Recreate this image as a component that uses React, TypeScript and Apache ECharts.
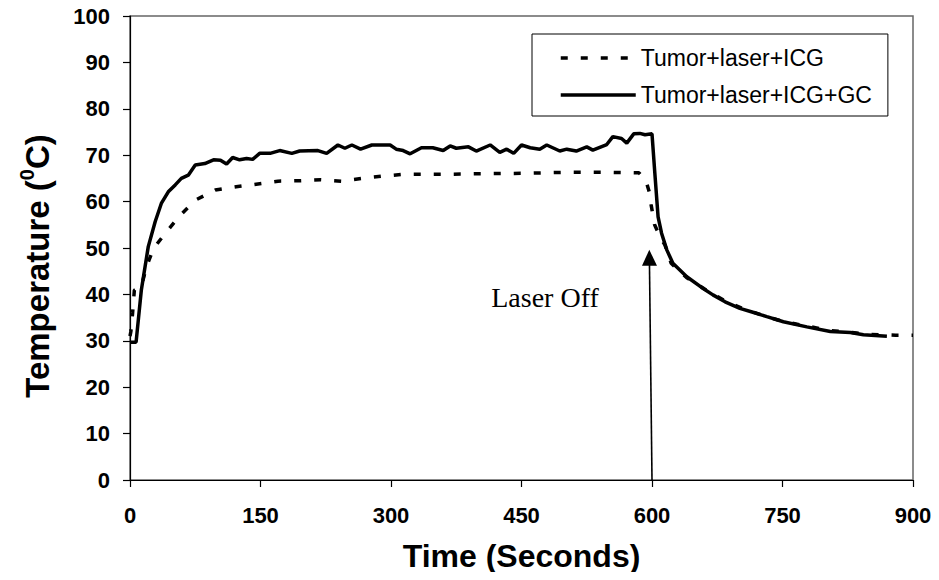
import React, { useEffect, useRef } from "react";
import * as echarts from "echarts";

// Time (s) and temperature (°C)
const icgTime = [0, 1, 3, 5, 13, 19, 27, 42, 58, 75, 98, 122, 143, 170, 195, 219, 243, 267, 291, 315, 339, 365, 400, 450, 500, 550, 585, 593, 597, 599, 603, 609, 615, 622, 640, 660, 685, 705, 730, 750, 780, 805, 830, 850, 880, 900];
const icgTemp = [31, 32, 36, 40.9, 41.7, 46, 49.9, 53.5, 57.1, 60.3, 62.5, 63.2, 63.7, 64.4, 64.5, 64.7, 64.4, 65, 65.5, 65.9, 65.9, 65.9, 66, 66.1, 66.3, 66.3, 66.2, 64.5, 62, 59.3, 55, 52.5, 50.6, 46.7, 43.6, 41.2, 38.5, 36.9, 35.3, 34.2, 33.1, 32.2, 31.8, 31.4, 31.2, 31.2];

const gcTime = [0, 7, 13, 21, 29, 36, 44, 52, 59, 67, 75, 86, 96, 104, 111, 118, 126, 134, 141, 149, 161, 172, 186, 195, 216, 226, 239, 247, 255, 265, 278, 299, 306, 314, 322, 335, 348, 360, 368, 375, 389, 398, 414, 425, 433, 441, 450, 460, 471, 479, 494, 502, 513, 525, 532, 548, 555, 565, 571, 579, 586, 592, 600, 603, 607, 611, 617, 624, 640, 657, 670, 684, 701, 715, 732, 751, 778, 805, 828, 843, 870];
const gcTemp = [29.7, 29.7, 40.9, 50.3, 55.7, 59.6, 62.1, 63.6, 65, 65.7, 67.9, 68.2, 69, 68.9, 68.1, 69.5, 69, 69.3, 69.1, 70.4, 70.4, 71, 70.4, 70.9, 71, 70.4, 72.2, 71.5, 72.2, 71.3, 72.2, 72.2, 71.3, 71, 70.3, 71.6, 71.6, 71, 72, 71.5, 71.8, 70.9, 72.2, 70.6, 71.3, 70.4, 72.2, 71.6, 71.3, 72.2, 70.9, 71.3, 70.9, 71.8, 71.1, 72.3, 74, 73.6, 72.6, 74.6, 74.7, 74.4, 74.6, 66.8, 56.7, 53.2, 49.6, 46.7, 43.8, 41.5, 39.9, 38.4, 37, 36.2, 35.2, 34.1, 33, 32, 31.8, 31.3, 31];

const seriesNames = ["Tumor+laser+ICG", "Tumor+laser+ICG+GC"];
const xTicks = { min: 0, max: 900, interval: 150 };
const yTicks = { min: 0, max: 100, interval: 10 };
const arrowStart = [600, 0];
const arrowEnd = [597, 47.9];
const annotation = "Laser Off";

const zip = (xs: number[], ys: number[]) => xs.map((x, i) => [x, ys[i]]);

export default function App() {
  const ref = useRef<HTMLDivElement>(null);
  useEffect(() => {
    if (!ref.current) return;
    const chart = echarts.init(ref.current, undefined, { renderer: "svg" });
    const tickFont = {
      fontFamily: "'Liberation Sans', Arial, sans-serif",
      fontWeight: "bold" as const,
      fontSize: 22,
      color: "#000",
    };
    chart.setOption({
      animation: false,
      backgroundColor: "#fff",
      grid: {
        left: 130,
        right: 26,
        top: 16,
        bottom: 100,
        show: true,
        borderColor: "#666",
        borderWidth: 1.5,
        backgroundColor: "transparent",
      },
      legend: {
        orient: "vertical",
        left: 532,
        top: 34,
        padding: [12, 16, 9, 27],
        borderColor: "#000",
        borderWidth: 1,
        backgroundColor: "#fff",
        itemWidth: 75,
        itemHeight: 14,
        itemGap: 13,
        selectedMode: false,
        data: seriesNames,
        itemStyle: { opacity: 0 },
        lineStyle: { width: 3.5 },
        textStyle: {
          fontFamily: "'Liberation Sans', Arial, sans-serif",
          fontSize: 23,
          lineHeight: 24,
          color: "#000",
        },
      },
      xAxis: {
        type: "value",
        min: xTicks.min,
        max: xTicks.max,
        interval: xTicks.interval,
        name: "Time (Seconds)",
        nameLocation: "middle",
        nameGap: 60,
        nameTextStyle: {
          fontFamily: "'Liberation Sans', Arial, sans-serif",
          fontWeight: "bold",
          fontSize: 32,
          color: "#000",
        },
        splitLine: { show: false },
        axisLine: { lineStyle: { color: "#000", width: 1.2 } },
        axisTick: { show: true, length: 7, inside: false, lineStyle: { color: "#000", width: 1.2 } },
        axisLabel: { ...tickFont, margin: 24 },
      },
      yAxis: {
        type: "value",
        min: yTicks.min,
        max: yTicks.max,
        interval: yTicks.interval,
        splitLine: { show: false },
        axisLine: { show: true, lineStyle: { color: "#000", width: 1.2 } },
        axisTick: { show: true, length: 7, inside: false, lineStyle: { color: "#000", width: 1.2 } },
        axisLabel: { ...tickFont, margin: 20 },
      },
      graphic: [
        {
          type: "text",
          x: 37,
          y: 266,
          rotation: Math.PI / 2,
          style: {
            text: "{a|Temperature (}{b|0}{a|C)}",
            align: "center",
            verticalAlign: "middle",
            fill: "#000",
            rich: {
              a: {
                fontFamily: "'Liberation Sans', Arial, sans-serif",
                fontWeight: "bold",
                fontSize: 33,
                lineHeight: 40,
                fill: "#000",
              },
              b: {
                fontFamily: "'Liberation Sans', Arial, sans-serif",
                fontWeight: "bold",
                fontSize: 20,
                lineHeight: 20,
                verticalAlign: "top",
                fill: "#000",
              },
            },
          },
        },
        {
          type: "text",
          x: 545,
          y: 297,
          style: {
            text: annotation,
            align: "center",
            verticalAlign: "middle",
            fontFamily: "'Liberation Serif', 'Times New Roman', serif",
            fontSize: 28,
            fill: "#000",
          },
        },
      ],
      series: [
        {
          name: seriesNames[0],
          type: "line",
          data: zip(icgTime, icgTemp),
          symbol: "none",
          showSymbol: false,
          lineStyle: { color: "#000", width: 3.5, type: [7, 13], cap: "butt" },
          itemStyle: { color: "#000" },
          markLine: {
            silent: true,
            symbol: ["none", "triangle"],
            symbolSize: [15, 16],
            label: { show: false },
            lineStyle: { color: "#000", width: 1.6, type: "solid" },
            data: [[{ coord: arrowStart }, { coord: arrowEnd }]],
          },
        },
        {
          name: seriesNames[1],
          type: "line",
          data: zip(gcTime, gcTemp),
          symbol: "none",
          showSymbol: false,
          lineStyle: { color: "#000", width: 3.5, type: "solid" },
          itemStyle: { color: "#000" },
        },
      ],
    });
    return () => chart.dispose();
  }, []);
  return <div ref={ref} style={{ width: 939, height: 580, margin: -8 }} />;
}
